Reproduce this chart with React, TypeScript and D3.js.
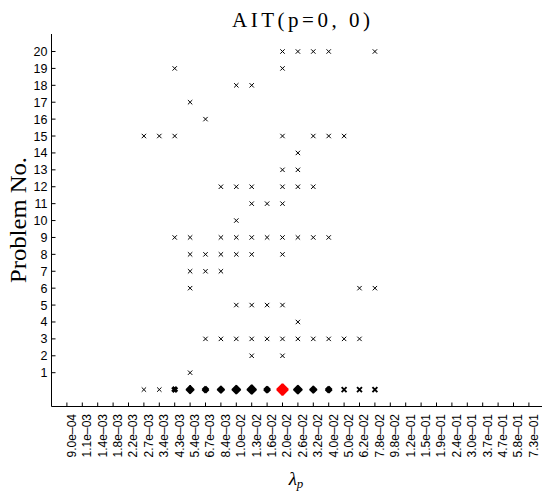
import React from "react";
import * as d3 from "d3";

const lambdaLabels: string[] = [
  "9.0e-04", "1.1e-03", "1.4e-03", "1.8e-03", "2.2e-03", "2.7e-03", "3.4e-03",
  "4.3e-03", "5.4e-03", "6.7e-03", "8.4e-03", "1.0e-02", "1.3e-02", "1.6e-02",
  "2.0e-02", "2.6e-02", "3.2e-02", "4.0e-02", "5.0e-02", "6.2e-02", "7.8e-02",
  "9.8e-02", "1.2e-01", "1.5e-01", "1.9e-01", "2.4e-01", "3.0e-01", "3.7e-01",
  "4.7e-01", "5.8e-01", "7.3e-01",
];

const yTicks: number[] = [1, 2, 3, 4, 5, 6, 7, 8, 9, 10, 11, 12, 13, 14, 15, 16, 17, 18, 19, 20];

// λ values at which each problem (1..20) is marked
const problemLambdas: string[][] = [
  ["5.4e-03"],
  ["1.3e-02", "2.0e-02"],
  ["6.7e-03", "8.4e-03", "1.0e-02", "1.3e-02", "1.6e-02", "2.0e-02", "2.6e-02", "3.2e-02", "4.0e-02", "5.0e-02", "6.2e-02"],
  ["2.6e-02"],
  ["1.0e-02", "1.3e-02", "1.6e-02", "2.0e-02"],
  ["5.4e-03", "6.2e-02", "7.8e-02"],
  ["5.4e-03", "6.7e-03", "8.4e-03"],
  ["5.4e-03", "6.7e-03", "8.4e-03", "1.0e-02", "1.3e-02", "2.0e-02"],
  ["4.3e-03", "5.4e-03", "8.4e-03", "1.0e-02", "1.3e-02", "1.6e-02", "2.0e-02", "2.6e-02", "3.2e-02", "4.0e-02"],
  ["1.0e-02"],
  ["1.3e-02", "1.6e-02", "2.0e-02"],
  ["8.4e-03", "1.0e-02", "1.3e-02", "2.0e-02", "2.6e-02", "3.2e-02"],
  ["2.0e-02", "2.6e-02"],
  ["2.6e-02"],
  ["2.7e-03", "3.4e-03", "4.3e-03", "2.0e-02", "3.2e-02", "4.0e-02", "5.0e-02"],
  ["6.7e-03"],
  ["5.4e-03"],
  ["1.0e-02", "1.3e-02"],
  ["4.3e-03", "2.0e-02"],
  ["2.0e-02", "2.6e-02", "3.2e-02", "4.0e-02", "7.8e-02"],
];

const W = 542;
const H = 497;

export default function App() {
  const x = d3.scalePoint<string>().domain(lambdaLabels).range([51.5, 544.3]).padding(1);
  const y = d3.scaleLinear().domain([-1, 21]).range([406.5, 34.6]);

  const points: { p: number; l: string }[] = [];
  problemLambdas.forEach((ls, i) => ls.forEach((l) => points.push({ p: i + 1, l })));

  const counts = d3.rollup(points, (v) => v.length, (d) => d.l);
  const summary = lambdaLabels.filter((l) => counts.has(l)).map((l) => ({ l, c: counts.get(l) as number }));
  const maxC = d3.max(summary, (d) => d.c) as number;

  const xPath = (h: number) => `M${-h},${-h}L${h},${h}M${-h},${h}L${h},${-h}`;

  const x0 = 51.5;
  const yBase = 406.5;

  return (
    <svg width={W} height={H} style={{ position: "absolute", left: 0, top: 0, background: "#fff" }}>
      <rect x={0} y={0} width={W} height={H} fill="#fff" />
      {/* title */}
      <text x={301} y={27} textAnchor="middle" fontFamily="Liberation Serif" fontSize={21} textLength={138} lengthAdjust="spacing" fill="#000">
        AIT(p=0, 0)
      </text>
      {/* y label */}
      <text transform="translate(26,220) rotate(-90)" textAnchor="middle" fontFamily="Liberation Serif" fontSize={24} textLength={126} lengthAdjust="spacingAndGlyphs" fill="#000">
        Problem No.
      </text>
      {/* x label */}
      <text x={296} y={485} textAnchor="middle" fontFamily="Liberation Serif" fontStyle="italic" fontSize={19} fill="#000">
        λ<tspan fontSize={13} dy={3}>p</tspan>
      </text>

      {/* axes */}
      <line x1={x0} x2={x0} y1={34} y2={yBase} stroke="#000" strokeWidth={1} />
      <line x1={x0} x2={W + 5} y1={yBase} y2={yBase} stroke="#000" strokeWidth={1} />

      {yTicks.map((t) => (
        <g key={"yt" + t}>
          <line x1={x0} x2={x0 + 4} y1={y(t)} y2={y(t)} stroke="#000" />
          <text x={47.5} y={y(t)} dy="0.36em" textAnchor="end" fontFamily="Liberation Sans" fontSize={12.5} fill="#000">
            {t}
          </text>
        </g>
      ))}

      {lambdaLabels.map((l) => {
        const px = x(l) as number;
        return (
          <g key={"xt" + l}>
            <line x1={px} x2={px} y1={yBase} y2={yBase - 4} stroke="#000" />
            <text transform={`translate(${px + 8.8},414) rotate(-90)`} textAnchor="end" fontFamily="Liberation Sans" fontSize={12} fill="#000">
              {l.replace("-", "\u2013")}
            </text>
          </g>
        );
      })}

      {/* problem markers */}
      {points.map((d, i) => (
        <path key={"pt" + i} transform={`translate(${x(d.l)},${y(d.p)})`} d={xPath(2.2)} stroke="#000" strokeWidth={1} fill="none" />
      ))}

      {/* summary row at 0 */}
      {summary.map((d) => {
        const E = 2.4 + 0.36 * d.c;
        const sw = d.c === 1 ? 1 : E * Math.min(1.3, 0.3 * d.c);
        const h = d.c === 1 ? 2.2 : Math.max(1, E - sw * 0.354);
        return (
          <path
            key={"s" + d.l}
            transform={`translate(${x(d.l)},${y(0)})`}
            d={xPath(h)}
            stroke={d.c === maxC ? "#ff0000" : "#000"}
            strokeWidth={sw}
            strokeLinejoin="round"
            fill="none"
          />
        );
      })}
    </svg>
  );
}
